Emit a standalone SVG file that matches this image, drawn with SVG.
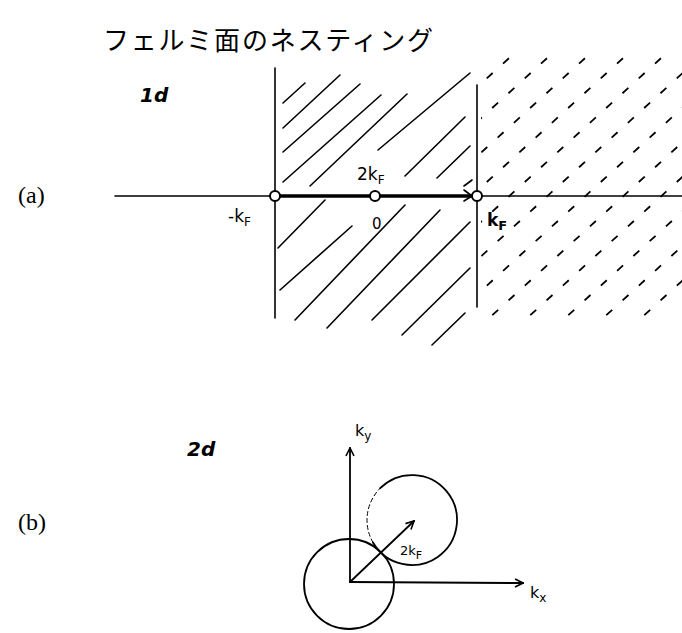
<svg xmlns="http://www.w3.org/2000/svg" width="682" height="633" viewBox="0 0 682 633">
<style>
.ln{stroke:#000;fill:none;stroke-linecap:round}
.h{stroke:#000;stroke-width:1.6;stroke-linecap:round;fill:none}
.hd{stroke:#000;stroke-width:1.8;fill:none;stroke-dasharray:8 14}
.hand{font-family:"DejaVu Sans","Noto Sans",sans-serif;fill:#000}
.ser{font-family:"Liberation Serif",serif;fill:#000;font-size:24px}
.jp{font-family:"Noto Sans CJK JP",sans-serif;fill:#000}
</style>
<defs>
<marker id="ar" viewBox="0 0 10 10" refX="9" refY="5" markerWidth="10" markerHeight="10" markerUnits="userSpaceOnUse" orient="auto">
<path d="M1,1 L9,5 L1,9" fill="none" stroke="#000" stroke-width="1.6"/>
</marker>
<clipPath id="rc"><rect x="481" y="55" width="201" height="268"/></clipPath>
</defs>
<rect width="682" height="633" fill="#fff"/>
<g id="title"><text class="jp" x="103" y="50" font-size="26" textLength="330" lengthAdjust="spacing">フェルミ面のネスティング</text></g>
<g id="label-a"><text class="ser" x="18" y="203">(a)</text></g>
<g id="label-b"><text class="ser" x="18" y="530">(b)</text></g>
<g id="label-1d"><text class="hand" x="140" y="102" font-size="20" font-weight="bold" font-style="italic">1d</text></g>
<g id="label-2d"><text class="hand" x="187" y="456" font-size="20" font-weight="bold" font-style="italic">2d</text></g>

<g id="hatch-left">
<path class="h" d="M283,103 L305,83 M283,128 L340,75 M283,152 L360,84 M283,182 L381,95 M310,186 L407,94 M378,150 L470,73 M405,176 L465,117 M437,178 L470,146 M464,186 L472,180 M278,248 L325,200 M280,290 L352,226 M295,320 L405,205 M327,328 L440,210 M372,320 L470,222 M402,335 L470,268 M432,345 L465,313"/>
</g>
<g id="hatch-right" clip-path="url(#rc)">
<path class="hd" d="M400,330 L730,30 M438,330 L768,30 M476,330 L806,30 M514,330 L844,30 M552,330 L882,30 M590,330 L920,30 M628,330 L958,30 M362,330 L692,30 M324,330 L654,30 M286,330 L616,30 M248,330 L578,30 M210,330 L540,30"/>
</g>

<g id="connectors">
<line class="ln" x1="115" y1="196" x2="682" y2="196" stroke-width="1.6"/>
<line class="ln" x1="275" y1="68" x2="275" y2="318" stroke-width="1.6"/>
<line class="ln" x1="477" y1="85" x2="477" y2="307" stroke-width="1.6"/>
<line class="ln" x1="275" y1="196" x2="472" y2="196" stroke-width="3.5"/>
<path class="ln" d="M464,190 L472,196 L464,201" stroke-width="1.6"/>
<line class="ln" x1="350" y1="582" x2="350" y2="448" stroke-width="1.8" marker-end="url(#ar)"/>
<line class="ln" x1="350" y1="582" x2="523" y2="583" stroke-width="2" marker-end="url(#ar)"/>
<line class="ln" x1="350" y1="582" x2="414" y2="521" stroke-width="1.8" marker-end="url(#ar)"/>
</g>

<g id="points">
<circle cx="275" cy="196" r="5" fill="#fff" stroke="#000" stroke-width="2"/>
<circle cx="375" cy="196" r="5" fill="#fff" stroke="#000" stroke-width="2"/>
<circle cx="477" cy="196" r="5" fill="#fff" stroke="#000" stroke-width="2"/>
</g>

<g id="labels-1d" class="hand" font-size="17">
<text x="228" y="222">-k<tspan font-size="12" dy="4">F</tspan></text>
<text x="357" y="180">2k<tspan font-size="12" dy="4">F</tspan></text>
<text x="372" y="229" font-size="15">0</text>
<text x="487" y="226" font-weight="bold">k<tspan font-size="13" dy="4">F</tspan></text>
</g>

<g id="fermi-circle-0">
<circle cx="349" cy="584" r="45" fill="none" stroke="#000" stroke-width="1.8"/>
</g>
<g id="fermi-circle-shifted">
<path class="ln" stroke-width="1.8" d="M380.2,488.2 A45,45 0 1 1 373,542.5"/>
<path class="ln" stroke-width="1" stroke-dasharray="4 3" d="M373,542.5 A45,45 0 0 1 380.2,488.2"/>
</g>
<g id="labels-2d" class="hand" font-size="16">
<text x="355" y="436">k<tspan font-size="12" dy="4">y</tspan></text>
<text x="530" y="598">k<tspan font-size="12" dy="4">x</tspan></text>
<text x="400" y="555" font-size="13">2k<tspan font-size="11" dy="4">F</tspan></text>
</g>
</svg>
